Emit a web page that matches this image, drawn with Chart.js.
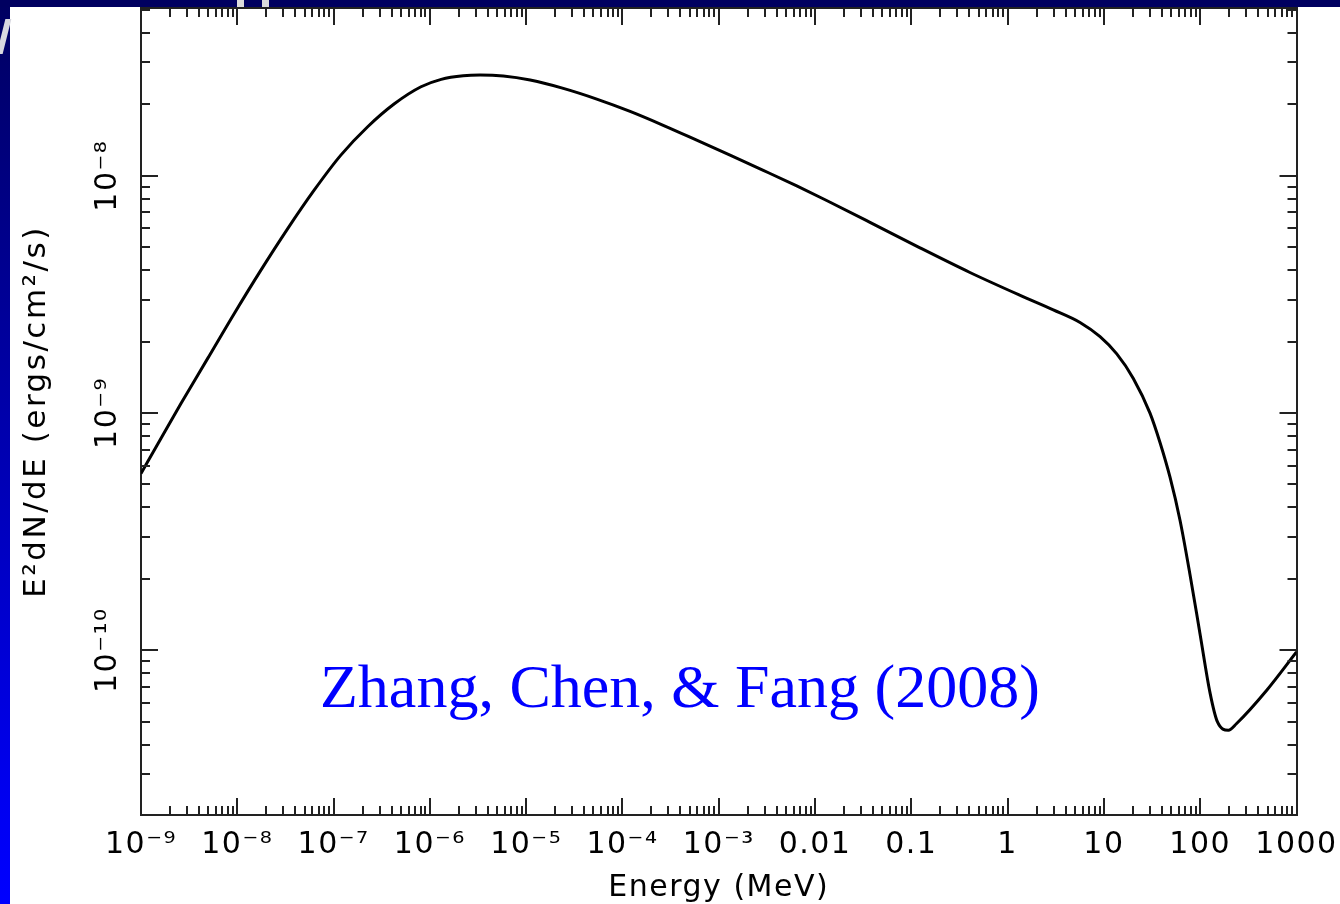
<!DOCTYPE html>
<html>
<head>
<meta charset="utf-8">
<script src="https://cdn.jsdelivr.net/npm/chart.js@4.4.1/dist/chart.umd.min.js"></script>
<style>
  html, body { margin: 0; padding: 0; background: #fff; }
  #wrap { position: relative; width: 1340px; height: 904px; overflow: hidden; background: #fff; }
  .deco { position: absolute; }
  #leftband { left: 0; top: 0; width: 10px; height: 904px; background: linear-gradient(to bottom, #000060 0px, #0000a8 400px, #0000f0 800px, #0000ff 904px); }
  #topband { left: 0; top: 0; width: 1340px; height: 7px; background: #000060; }
  #gap1 { left: 237px; top: 0; width: 7px; height: 7px; background: #dcdcdc; }
  #gap2 { left: 262px; top: 0; width: 7px; height: 7px; background: #dcdcdc; }
  #slash { left: 1px; top: 19px; width: 6px; height: 35px; background: #d8d8e0; transform: skewX(-14deg); }
  canvas { position: absolute; left: 0; top: 0; }
  #note { position: absolute; left: 320px; top: 655px; font-family: 'Liberation Serif', 'Times New Roman', serif; font-size: 62px; line-height: 62px; color: #0000ff; white-space: nowrap; }
</style>
</head>
<body>
<div id="wrap">
  <div class="deco" id="leftband"></div>
  <div class="deco" id="topband"></div>
  <div class="deco" id="gap1"></div>
  <div class="deco" id="gap2"></div>
  <div class="deco" id="slash"></div>
  <canvas id="c" width="1340" height="904"></canvas>
  <div id="note"></div>
</div>
<script>
// ---- data ----
const energyMeV = [1e-9, 1.61e-9, 2.60e-9, 4.93e-9, 9.31e-9, 1.76e-8, 3.34e-8, 6.31e-8, 1.19e-7, 2.26e-7,
  4.28e-7, 8.09e-7, 1.31e-6, 2.22e-6, 3.32e-6, 5.79e-6, 1.10e-5, 2.43e-5, 5.41e-5, 1.20e-4,
  2.65e-4, 5.90e-4, 1.31e-3, 2.90e-3, 6.46e-3, 1.32e-2, 3.72e-2, 0.123, 0.406, 1.35,
  2.98, 5.65, 9.12, 13.6, 20.2, 30.1, 38.3, 48.5, 61.7, 78.3,
  99.5, 126.5, 150.7, 196, 239, 491, 1000];
const e2dNdE = [5.56e-10, 7.81e-10, 1.096e-9, 1.698e-9, 2.627e-9, 4.00e-9, 5.985e-9, 8.71e-9, 1.221e-8, 1.608e-8,
  2.009e-8, 2.370e-8, 2.547e-8, 2.637e-8, 2.655e-8, 2.630e-8, 2.529e-8, 2.333e-8, 2.103e-8, 1.866e-8,
  1.631e-8, 1.412e-8, 1.221e-8, 1.053e-8, 9.05e-9, 7.86e-9, 6.36e-9, 4.963e-9, 3.908e-9, 3.13e-9,
  2.72e-9, 2.407e-9, 2.096e-9, 1.773e-9, 1.398e-9, 9.98e-10, 7.49e-10, 5.37e-10, 3.53e-10, 2.086e-10,
  1.174e-10, 6.61e-11, 4.995e-11, 4.60e-11, 4.91e-11, 6.78e-11, 9.83e-11];
const xTickValues = [1e-9, 1e-8, 1e-7, 1e-6, 1e-5, 1e-4, 1e-3, 1e-2, 1e-1, 1, 10, 100, 1000];
const xTickLabels = ['10⁻⁹', '10⁻⁸', '10⁻⁷', '10⁻⁶', '10⁻⁵', '10⁻⁴', '10⁻³', '0.01', '0.1', '1', '10', '100', '1000'];
const yTickValues = [1e-10, 1e-9, 1e-8];
const yTickLabels = ['10⁻¹⁰', '10⁻⁹', '10⁻⁸'];
const xLimits = [1e-9, 1e3];
const yLimits = [2.02e-11, 5.09e-8];
const xTitle = 'Energy (MeV)';
const yTitle = 'E²dN/dE (ergs/cm²/s)';
const noteText = 'Zhang, Chen, & Fang (2008)';

// ---- styling / layout ----
const FONT = "'DejaVu Sans', sans-serif";
const TICK_SIZE = 30;
const AXIS_COLOR = '#222';
const Y_LABEL_CENTER_FROM_AXIS = 33;
const TEXT_SPACING = '1.5px';
const YTITLE_SPACING = '2.5px';

document.getElementById('note').textContent = noteText;

const meas = document.createElement('canvas').getContext('2d');
meas.font = 'normal ' + TICK_SIZE + 'px ' + FONT;
const yWidest = Math.max(...yTickLabels.map(s => meas.measureText(s).width));

const textSpacing = {
  id: 'textSpacing',
  afterLayout(chart) {
    const ys = chart.scales.y;
    if (ys && !ys._spacedTitle) {
      const orig = ys.drawTitle.bind(ys);
      ys.drawTitle = function () {
        const c = this.ctx;
        const prev = c.letterSpacing;
        c.letterSpacing = YTITLE_SPACING;
        orig();
        c.letterSpacing = prev;
      };
      ys._spacedTitle = true;
    }
  },
  beforeDraw(chart) { chart.ctx.letterSpacing = TEXT_SPACING; },
  afterDraw(chart) { chart.ctx.letterSpacing = '0px'; }
};

const inwardTicks = {
  id: 'inwardTicks',
  afterDraw(chart) {
    const { ctx, chartArea: a } = chart;
    const xs = chart.scales.x, ys = chart.scales.y;
    const logTicks = (min, max) => {
      const out = [];
      for (let d = Math.floor(Math.log10(min)); d <= Math.ceil(Math.log10(max)); d++) {
        for (let m = 1; m <= 9; m++) {
          const v = m * Math.pow(10, d);
          if (v >= min * 0.9999 && v <= max * 1.0001) out.push({ v, major: m === 1 });
        }
      }
      return out;
    };
    ctx.save();
    ctx.strokeStyle = AXIS_COLOR;
    ctx.lineWidth = 2;
    ctx.beginPath();
    for (const t of logTicks(xs.min, xs.max)) {
      const px = Math.round(xs.getPixelForValue(t.v));
      const len = t.major ? 17 : 9;
      ctx.moveTo(px, a.bottom); ctx.lineTo(px, a.bottom - len);
      ctx.moveTo(px, a.top); ctx.lineTo(px, a.top + len);
    }
    for (const t of logTicks(ys.min, ys.max)) {
      const py = Math.round(ys.getPixelForValue(t.v));
      const len = t.major ? 17 : 9;
      ctx.moveTo(a.left, py); ctx.lineTo(a.left + len, py);
      ctx.moveTo(a.right, py); ctx.lineTo(a.right - len, py);
    }
    ctx.stroke();
    ctx.restore();
  }
};

new Chart(document.getElementById('c'), {
  type: 'line',
  data: {
    datasets: [{
      data: energyMeV.map((e, i) => ({ x: e, y: e2dNdE[i] })),
      borderColor: '#000',
      borderWidth: 3,
      pointRadius: 0,
      fill: false,
      cubicInterpolationMode: 'monotone'
    }]
  },
  options: {
    responsive: false,
    animation: false,
    devicePixelRatio: 1,
    layout: { padding: { left: 0, top: 8, right: 43.5, bottom: 0 } },
    plugins: { legend: { display: false }, tooltip: { enabled: false } },
    scales: {
      x: {
        type: 'logarithmic', position: 'bottom',
        min: xLimits[0], max: xLimits[1],
        afterBuildTicks: s => { s.ticks = xTickValues.map(v => ({ value: v })); },
        afterFit: s => { s.height = 89; s.paddingLeft = 0; s.paddingRight = 0; },
        grid: { display: false, drawTicks: false },
        border: { display: true, color: AXIS_COLOR, width: 2 },
        ticks: {
          autoSkip: false, maxRotation: 0, minRotation: 0, padding: 12, color: '#000',
          font: { family: FONT, size: TICK_SIZE },
          callback: (v, i) => xTickLabels[i]
        },
        title: { display: true, text: xTitle, color: '#000', font: { family: FONT, size: 30, lineHeight: 1 }, padding: { top: 0, bottom: 1 } }
      },
      x2: {
        type: 'logarithmic', position: 'top', display: true,
        min: xLimits[0], max: xLimits[1],
        grid: { display: false, drawTicks: false },
        border: { display: true, color: AXIS_COLOR, width: 2 },
        ticks: { display: false },
        afterFit: s => { s.height = 0; s.paddingLeft = 0; s.paddingRight = 0; }
      },
      y: {
        type: 'logarithmic', position: 'left',
        min: yLimits[0], max: yLimits[1],
        afterBuildTicks: s => { s.ticks = yTickValues.map(v => ({ value: v })); },
        afterFit: s => { s.width = 141; s.paddingTop = 0; s.paddingBottom = 0; },
        grid: { display: false, drawTicks: false },
        border: { display: true, color: AXIS_COLOR, width: 2 },
        ticks: {
          autoSkip: false, minRotation: 90, maxRotation: 90, crossAlign: 'center',
          padding: Y_LABEL_CENTER_FROM_AXIS - yWidest / 2, color: '#000',
          font: { family: FONT, size: TICK_SIZE },
          callback: (v, i) => yTickLabels[i]
        },
        title: { display: true, text: yTitle, color: '#000', font: { family: FONT, size: 31, lineHeight: 1 }, padding: { top: 21.5, bottom: 0 } }
      },
      y2: {
        type: 'logarithmic', position: 'right', display: true,
        min: yLimits[0], max: yLimits[1],
        grid: { display: false, drawTicks: false },
        border: { display: true, color: AXIS_COLOR, width: 2 },
        ticks: { display: false },
        afterFit: s => { s.width = 0; s.paddingTop = 0; s.paddingBottom = 0; }
      }
    }
  },
  plugins: [textSpacing, inwardTicks]
});
</script>
</body>
</html>
